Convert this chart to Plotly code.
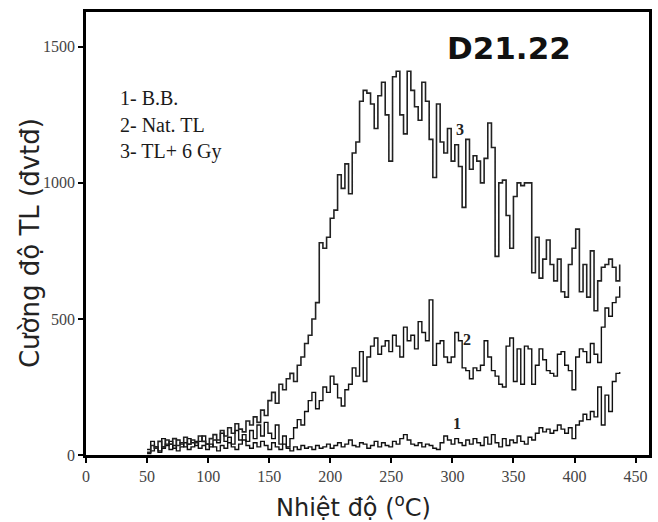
import plotly.graph_objects as go

# Temperature grid (°C), sampled every 3 °C
temperature = list(range(50, 438, 3))

# Curve 1 - B.B. (background)
curve_bb = [5, 15, 30, 10, 25, 40, 20, 35, 15, 30, 45, 20, 30, 50, 25, 35, 20, 40, 30, 15,
            35, 25, 45, 30, 20, 40, 55, 35, 25, 45, 30, 50, 35, 20, 45, 30, 20, 40, 25, 15,
            30, 20, 35, 25, 30, 20, 35, 25, 30, 40, 25, 35, 45, 30, 40, 55, 35, 30, 45, 40,
            25, 35, 50, 30, 45, 35, 30, 50, 40, 60, 75, 55, 40, 35, 45, 30, 40, 35, 25, 20,
            45, 70, 55, 40, 60, 45, 35, 55, 40, 60, 45, 35, 65, 40, 75, 45, 30, 60, 35, 55,
            45, 70, 50, 40, 65, 55, 80, 100, 85, 95, 80, 90, 110, 95, 80, 100, 60, 110, 125, 150,
            130, 160, 140, 250, 110, 220, 160, 270, 300, 305]

# Curve 2 - Nat. TL
curve_nat = [20, 50, 30, 15, 60, 35, 50, 25, 55, 40, 30, 60, 45, 35, 50, 70, 40, 30, 55, 45,
             80, 50, 65, 40, 90, 55, 75, 50, 90, 60, 110, 70, 120, 80, 60, 110, 40, 70, 30, 60,
             100, 130, 110, 160, 200, 230, 170, 200, 250, 230, 290, 260, 210, 180, 240, 260, 320, 290, 380, 270,
             360, 400, 430, 370, 400, 420, 380, 440, 400, 360, 470, 420, 440, 390, 490, 450, 420, 570, 330, 410,
             420, 360, 340, 360, 450, 420, 320, 310, 280, 320, 310, 330, 420, 360, 310, 290, 260, 250, 400, 430,
             270, 390, 260, 400, 390, 260, 330, 390, 350, 310, 300, 290, 370, 380, 330, 310, 240, 360, 390, 380,
             340, 410, 370, 340, 470, 540, 510, 560, 580, 620]

# Curve 3 - TL + 6 Gy
curve_dose = [10, 35, 25, 50, 30, 55, 40, 60, 35, 45, 65, 40, 55, 45, 70, 50, 40, 60, 75, 55,
              90, 70, 100, 80, 115, 95, 85, 125, 110, 140, 120, 165, 145, 200, 230, 190, 260, 240, 280, 300,
              270, 330, 360, 410, 440, 500, 560, 780, 760, 800, 870, 900, 1030, 980, 1070, 960, 1110, 1150, 1300, 1340,
              1330, 1290, 1200, 1320, 1370, 1250, 1080, 1390, 1410, 1250, 1180, 1410, 1340, 1280, 1230, 1370, 1300, 1160, 1020, 1290,
              1150, 1110, 1200, 1080, 1140, 1060, 910, 1160, 1050, 1100, 1080, 1000, 1090, 1220, 1130, 730, 1000, 1010, 880, 760,
              950, 1000, 990, 1000, 1000, 670, 800, 650, 720, 790, 700, 640, 720, 600, 580, 700, 760, 830, 600, 700,
              580, 750, 530, 640, 690, 700, 720, 690, 640, 700]

x_ticks = [0, 50, 100, 150, 200, 250, 300, 350, 400, 450]
y_tick_vals = [0, 500, 1000, 1500]
y_tick_text = ["0", "500", "1000", "1500"]

legend_lines = ["1- B.B.", "2- Nat. TL", "3- TL+ 6 Gy"]
curve_labels = [("1", 304, 114), ("2", 312, 426), ("3", 306, 1195)]

fig = go.Figure()
for ys, col, w in [(curve_bb, "#111111", 1.4), (curve_nat, "#111111", 1.4), (curve_dose, "#222222", 1.6)]:
    fig.add_trace(go.Scatter(x=temperature, y=ys, mode="lines",
                             line=dict(color=col, width=w, shape="hv"),
                             showlegend=False, hoverinfo="skip"))

annotations = []
for i, txt in enumerate(legend_lines):
    annotations.append(dict(text=txt, xref="paper", yref="paper", x=0.056, y=0.806 - i * 0.06,
                            xanchor="left", yanchor="middle", showarrow=False,
                            font=dict(family="Liberation Serif", size=20, color="#1a1a1a")))
for txt, xv, yv in curve_labels:
    annotations.append(dict(text="<b>" + txt + "</b>", x=xv, y=yv, xref="x", yref="y",
                            xanchor="center", yanchor="middle", showarrow=False,
                            font=dict(family="Liberation Serif", size=16, color="#222222")))
annotations.append(dict(text="<b>D21.22</b>", xref="paper", yref="paper", x=0.751, y=0.919,
                        xanchor="center", yanchor="middle", showarrow=False,
                        font=dict(family="DejaVu Sans", size=31, color="#111111")))
annotations.append(dict(text="Cường độ TL (đvtđ)", xref="paper", yref="paper", x=-0.099, y=0.479,
                        xanchor="center", yanchor="middle", textangle=-90, showarrow=False,
                        font=dict(family="DejaVu Sans", size=26, color="#222222")))
annotations.append(dict(text="Nhiệt độ (<sup>o</sup>C)", xref="paper", yref="paper", x=0.475, y=-0.115,
                        xanchor="center", yanchor="middle", showarrow=False,
                        font=dict(family="DejaVu Sans", size=24, color="#222222")))

fig.update_layout(
    width=658, height=522,
    margin=dict(l=86, r=6, t=12, b=67),
    paper_bgcolor="white", plot_bgcolor="white",
    annotations=annotations,
    xaxis=dict(range=[0, 461], tickvals=x_ticks, showgrid=False, zeroline=False,
               showline=True, linecolor="black", linewidth=2.5, mirror=True,
               ticks="outside", ticklen=5, tickwidth=1.5, tickcolor="black",
               tickfont=dict(family="Liberation Serif", size=16, color="#444444")),
    yaxis=dict(range=[0, 1628], tickvals=y_tick_vals, ticktext=y_tick_text, showgrid=False,
               zeroline=False, showline=True, linecolor="black", linewidth=2.5, mirror=True,
               ticks="outside", ticklen=5, tickwidth=1.5, tickcolor="black",
               tickfont=dict(family="Liberation Serif", size=16, color="#444444")),
)

fig.write_html("out.html", config={"displayModeBar": False},
               post_script="document.body.style.margin='0';document.body.style.overflow='hidden';")
